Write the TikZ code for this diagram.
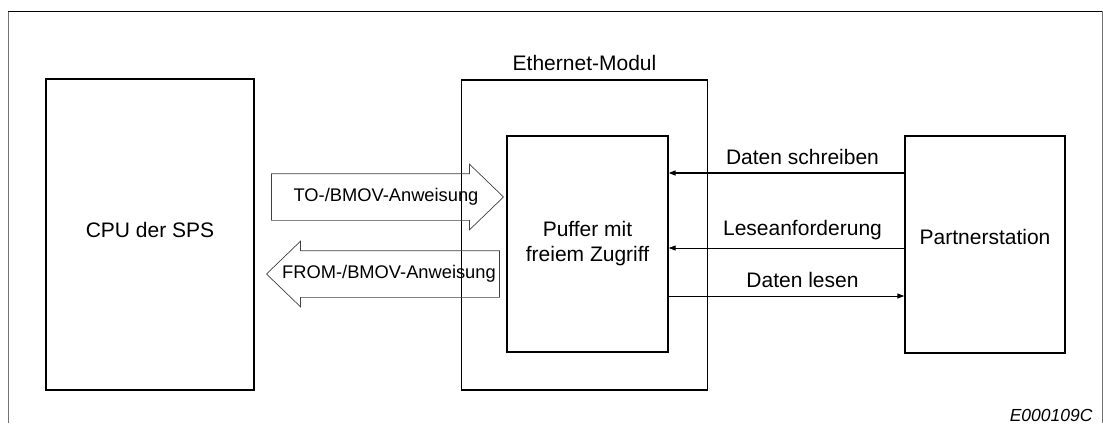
\documentclass[tikz,border=0pt]{standalone}
\usepackage{fontspec}
\setmainfont{Liberation Sans}
\usetikzlibrary{arrows,arrows.meta,positioning,calc,shapes.arrows}

\tikzset{
  box/.style={draw,line width=1.3pt,inner sep=0pt,align=center,
    font=\fontsize{21}{25}\selectfont},
  blockarrow/.style={single arrow,draw=black!75,line width=0.7pt,
    single arrow head extend=9.5pt,single arrow tip angle=88,
    inner xsep=6pt,inner ysep=14.5pt,text height=13pt,text depth=4pt},
  arrowlbl/.style={font=\fontsize{18.3}{22}\selectfont},
  lbl/.style={font=\fontsize{21}{25}\selectfont},
  tip/.style={-{Triangle[length=7pt,width=5pt]}}
}

\begin{document}
\begin{tikzpicture}[x=1pt,y=-1pt]
\useasboundingbox (0,0) rectangle (1103,423);
% frame
\draw[black!55,line width=1pt] (8,423) -- (8,11);
\draw[black!55,line width=1pt] (1102,11) -- (1102,423);
\draw[line width=1pt] (8,11) -- (1102,11);
% boxes
\node[box,minimum width=208pt,minimum height=311pt] (cpu) at (150,234.5) {};
\node[lbl] (cpulbl) at ($(cpu)+(0,-5)$) {CPU der SPS};
\node[box,minimum width=246pt,minimum height=310pt] (modul) at (584.5,235) {};
\node[lbl,above=5pt of modul] (modullbl) {Ethernet-Modul};
\node[box,minimum width=161pt,minimum height=216pt] (puffer) at (587.5,244) {Puffer mit\\freiem Zugriff};
\node[box,minimum width=160pt,minimum height=217pt] (partner) at (985,244.5) {};
\node[lbl] (partnerlbl) at ($(partner)+(0,-8)$) {Partnerstation};
% block arrows
\node[blockarrow,minimum height=232pt,anchor=tip] (to) at (504,197) {};
\node[arrowlbl] (tolbl) at (386,197) {TO-/BMOV-Anweisung};
\node[blockarrow,shape border rotate=180,minimum height=233pt,anchor=tip] (from) at (266,274) {};
\node[arrowlbl] (fromlbl) at (389,274) {FROM-/BMOV-Anweisung};
% lines to partner
\draw[tip,line width=1.5pt] (partner.west |- 0,173) -- (puffer.east |- 0,173)
  node[lbl,midway,above=4pt,xshift=16pt] {Daten schreiben};
\draw[tip,line width=1pt] (partner.west |- 0,248) -- (puffer.east |- 0,248)
  node[lbl,midway,above=4pt,xshift=16pt] {Leseanforderung};
\draw[tip,line width=1pt] (puffer.east |- 0,296) -- (partner.west |- 0,296)
  node[lbl,midway,above=4pt,xshift=16pt] {Daten lesen};
% figure number
\node[anchor=east,font=\fontsize{17.5}{21}\selectfont\itshape] (nr) at (1096,415) {E000109C};
\end{tikzpicture}
\end{document}
